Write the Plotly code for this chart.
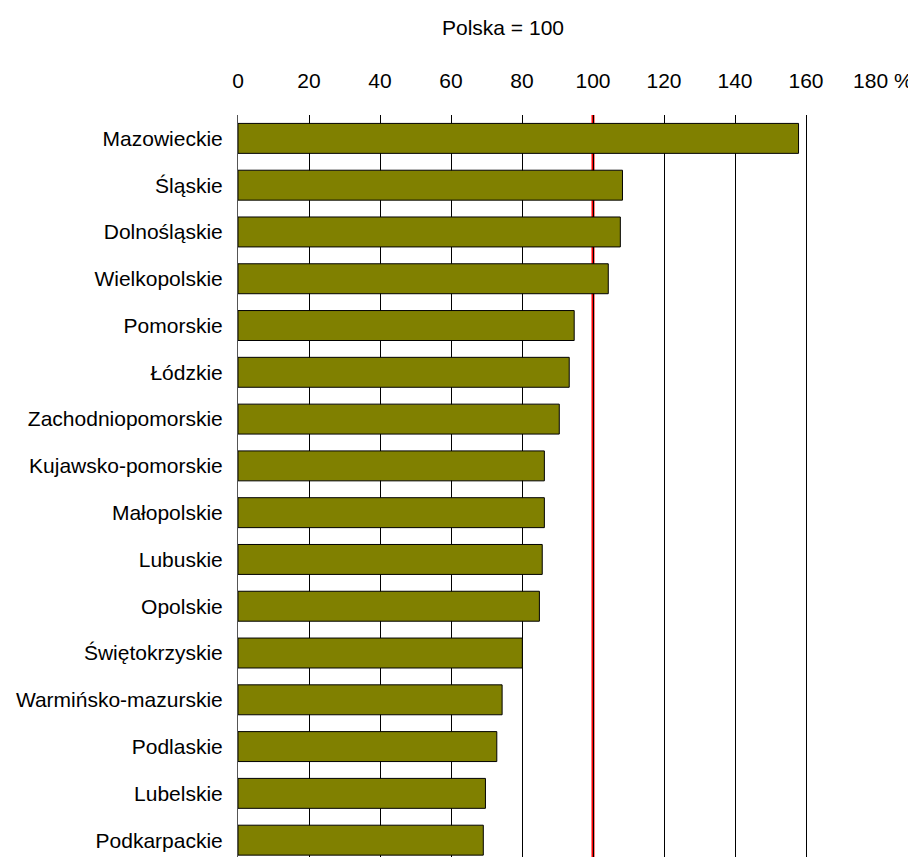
import plotly.graph_objects as go

regions = ["Mazowieckie", "Śląskie", "Dolnośląskie", "Wielkopolskie", "Pomorskie",
           "Łódzkie", "Zachodniopomorskie", "Kujawsko-pomorskie", "Małopolskie",
           "Lubuskie", "Opolskie", "Świętokrzyskie", "Warmińsko-mazurskie",
           "Podlaskie", "Lubelskie", "Podkarpackie"]
values = [157.9, 108.3, 107.7, 104.3, 94.7, 93.3, 90.5, 86.3, 86.3, 85.7, 84.9,
          80.1, 74.4, 72.9, 69.7, 69.1]
tick_vals = [0, 20, 40, 60, 80, 100, 120, 140, 160, 180]
tick_text = ["0", "20", "40", "60", "80", "100", "120", "140", "160", "\u00a0\u00a0180 %"]
reference_value = 100
title_text = "Polska = 100"

FONT = "Liberation Sans, Arial, sans-serif"

fig = go.Figure()
fig.add_trace(go.Bar(
    x=values, y=regions, orientation="h",
    marker=dict(color="#808000", line=dict(color="black", width=1)),
    showlegend=False,
))

fig.add_shape(type="line", xref="x", yref="paper", x0=reference_value, x1=reference_value,
              y0=0, y1=1, line=dict(color="#ff0000", width=3), layer="between")

fig.add_annotation(text=title_text, xref="paper", yref="paper", x=0.415, y=1.118,
                   xanchor="center", yanchor="middle", showarrow=False,
                   font=dict(family=FONT, size=21, color="black"))

fig.update_layout(
    width=908, height=849,
    margin=dict(l=230, r=39, t=107, b=0),
    paper_bgcolor="white", plot_bgcolor="white",
    bargap=0.36,
    font=dict(family=FONT, size=21, color="black"),
    xaxis=dict(
        side="top", range=[0, 180], tickmode="array", tickvals=tick_vals, ticktext=tick_text,
        showgrid=True, gridcolor="black", gridwidth=1, zeroline=False,
        ticks="outside", ticklen=18, tickcolor="rgba(0,0,0,0)",
        tickfont=dict(family=FONT, size=21, color="black"),
        showline=False,
    ),
    yaxis=dict(
        categoryorder="array", categoryarray=regions, range=[15.36, -0.5],
        showgrid=False, zeroline=False, showline=True, linecolor="#555555", linewidth=1,
        ticks="outside", ticklen=10, tickcolor="rgba(0,0,0,0)",
        tickfont=dict(family=FONT, size=21, color="black"),
    ),
)

fig.write_html("out.html")
